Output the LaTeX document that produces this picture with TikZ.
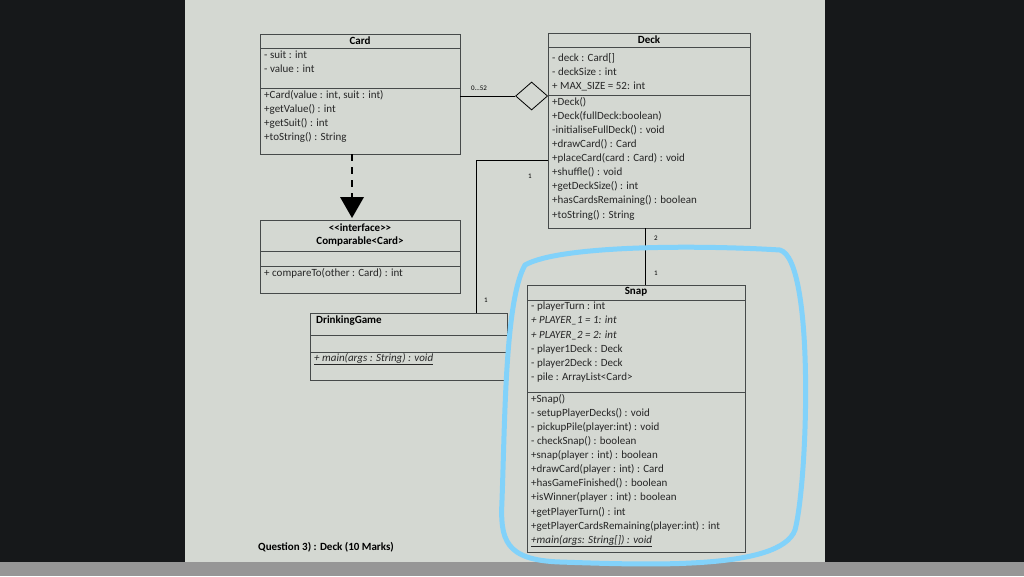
\documentclass[tikz,border=0pt]{standalone}
\usepackage{fontspec}
\setmainfont{Carlito}
\usetikzlibrary{positioning,calc,shapes.geometric}
\definecolor{pagecolor}{RGB}{212,216,210}
\definecolor{darkcolor}{RGB}{22,24,26}
\definecolor{stripcolor}{RGB}{150,150,150}
\definecolor{linecolor}{RGB}{70,74,74}
\definecolor{markercolor}{RGB}{130,210,250}
\tikzset{
  %% classbox : outline of a class
  classbox/.style={
    rectangle,
    draw=linecolor,
    anchor=north west,
    inner sep=0pt
  },
  %% members : attributes or operations
  members/.style={
    anchor=north west,
    align=left,
    inner sep=1pt,
    text=black!85,
    font=\fontsize{11}{14.1}\selectfont
  },
  %% title : class name
  title/.style={
    font=\bfseries\fontsize{11}{14}\selectfont,
    inner sep=0pt
  },
  %% mult : multiplicity label
  mult/.style={font=\fontsize{7}{8}\selectfont, inner sep=0pt},
  %% separator : compartment line
  separator/.style={draw=linecolor}
}
\begin{document}
\begin{tikzpicture}
  [x=1pt,
  y=-1pt]

  %% Background
  \fill[darkcolor] (0,0) rectangle (1024,576);
  \fill[pagecolor] (185,0) rectangle (825,562);
  \fill[stripcolor] (0,562) rectangle (1024,576);
  \useasboundingbox (0,0) rectangle (1024,576);

  %% Card
  \node (card) [classbox, minimum width=200, minimum height=120] at (260,34) {};
  \node (cardname) [title] at (360,41) {Card};
  \draw[separator] (260,48) -- (460,48);
  \draw[separator] (260,88) -- (460,88);
  \node (cardattr) [members] at (263,50) {- suit : int\\- value : int};
  \node (cardops) [members] at (263,89) {+Card(value : int, suit : int)\\+getValue() : int\\+getSuit() : int\\+toString() : String};

  %% Deck
  \node (deck) [classbox, minimum width=202, minimum height=195] at (548,33) {};
  \node (deckname) [title] at (649,40) {Deck};
  \draw[separator] (548,47) -- (750,47);
  \draw[separator] (548,95) -- (750,95);
  \node (deckattr) [members] at (551,52) {- deck : Card[]\\- deckSize : int\\+ MAX\_SIZE = 52: int};
  \node (deckops) [members] at (551,96) {+Deck()\\+Deck(fullDeck:boolean)\\-initialiseFullDeck() : void\\+drawCard() : Card\\+placeCard(card : Card) : void\\+shuffle() : void\\+getDeckSize() : int\\+hasCardsRemaining() : boolean\\+toString() : String};

  %% Comparable
  \node (comparable) [classbox, minimum width=200, minimum height=73] at (260,220) {};
  \node (compname) [title, align=center, font=\bfseries\fontsize{11}{13}\selectfont] at (360,235) {<{}<interface>{}>\\Comparable<Card>};
  \draw[separator] (260,251) -- (460,251);
  \draw[separator] (260,266) -- (460,266);
  \node (compops) [members] at (263,267) {+ compareTo(other : Card) : int};

  %% DrinkingGame
  \node (drinking) [classbox, minimum width=197, minimum height=67] at (310,313) {};
  \node (drinkname) [title, anchor=west] at (316,321) {DrinkingGame};
  \draw[separator] (310,335) -- (507,335);
  \draw[separator] (310,352) -- (507,352);
  \node (drinkops) [members] at (313,352) {\itshape\underline{+ main(args : String) : void}};

  %% Snap
  \node (snap) [classbox, minimum width=218, minimum height=267] at (527,285) {};
  \node (snapname) [title] at (636,292) {Snap};
  \draw[separator] (527,300) -- (745,300);
  \draw[separator] (527,392) -- (745,392);
  \node (snapattr) [members] at (530,301) {- playerTurn : int\\\textit{+ PLAYER\_1 = 1: int}\\\textit{+ PLAYER\_2 = 2: int}\\- player1Deck : Deck\\- player2Deck : Deck\\- pile : ArrayList<Card>};
  \node (snapops) [members] at (530,393) {+Snap()\\- setupPlayerDecks() : void\\- pickupPile(player:int) : void\\- checkSnap() : boolean\\+snap(player : int) : boolean\\+drawCard(player : int) : Card\\+hasGameFinished() : boolean\\+isWinner(player : int) : boolean\\+getPlayerTurn() : int\\+getPlayerCardsRemaining(player:int) : int\\\itshape\underline{+main(args: String[]) : void}};

  %% Connections
  \node (agg) [diamond, draw=black, thick, minimum width=32, minimum height=28, inner sep=0pt, anchor=east, fill=pagecolor] at (548,96) {};
  \draw[thick] (card.east |- agg) -- (agg.west);
  \node [mult] at (479,88) {0...52};

  \coordinate (realize) at (352,197);
  \draw[line width=2pt, dash pattern=on 7pt off 6pt] (card.south -| realize) -- (realize);
  \fill (340,197) -- (364,197) -- (352,218) -- cycle;

  \coordinate (bend) at (476,160);
  \draw[thick] (drinking.north -| bend) -- (bend) -- (bend -| deck.west);
  \node [mult] at (530,176) {1};
  \node [mult] at (486,300) {1};

  \draw[thick] (deck.south -| 645,0) -- (snap.north -| 645,0);
  \node [mult] at (656,238) {2};
  \node [mult] at (656,273) {1};

  %% Marker
  \draw[markercolor, line width=5pt, line cap=round]
    (525,265) .. controls (560,245) and (700,245) .. (780,250)
    .. controls (815,260) and (808,480) .. (795,530)
    .. controls (780,570) and (650,565) .. (560,562)
    .. controls (505,560) and (500,540) .. (502,500)
    .. controls (505,420) and (505,300) .. (525,265);

  %% Caption
  \node (caption) [anchor=west, font=\bfseries\fontsize{11}{12}\selectfont, inner sep=0pt] at (258,547) {Question 3) : Deck (10 Marks)};
\end{tikzpicture}
\end{document}
